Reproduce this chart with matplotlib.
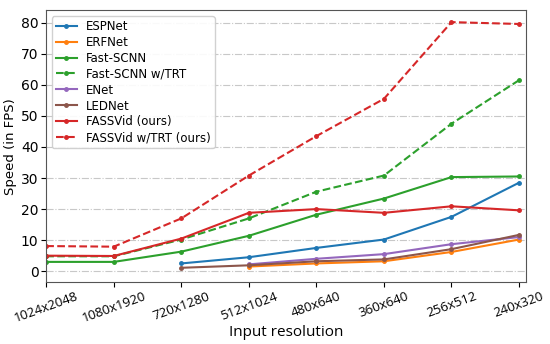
import matplotlib
matplotlib.use("Agg")
import matplotlib.pyplot as plt
import numpy as np

resolutions = ["1024x2048", "1080x1920", "720x1280", "512x1024",
               "480x640", "360x640", "256x512", "240x320"]

espnet = [None, None, 2.5, 4.5, 7.5, 10.2, 17.5, 28.5]
erfnet = [None, None, None, 1.5, 2.5, 3.2, 6.2, 10.2]
fastscnn = [3.0, 3.0, 6.3, 11.4, 18.2, 23.4, 30.3, 30.5]
fastscnn_trt = [4.8, 4.8, 10.2, 17.0, 25.6, 30.8, 47.5, 61.5]
enet = [None, None, None, 2.2, 4.0, 5.5, 8.7, 11.0]
lednet = [None, None, 1.1, 1.9, 3.2, 3.8, 7.1, 11.7]
fassvid = [5.0, 4.9, 10.5, 18.8, 20.0, 18.8, 20.9, 19.6]
fassvid_trt = [8.1, 7.9, 17.0, 30.8, 43.5, 55.5, 80.2, 79.6]

series = [
    ("ESPNet", espnet, "tab:blue", "-"),
    ("ERFNet", erfnet, "tab:orange", "-"),
    ("Fast-SCNN", fastscnn, "tab:green", "-"),
    ("Fast-SCNN w/TRT", fastscnn_trt, "tab:green", "--"),
    ("ENet", enet, "tab:purple", "-"),
    ("LEDNet", lednet, "tab:brown", "-"),
    ("FASSVid (ours)", fassvid, "tab:red", "-"),
    ("FASSVid w/TRT (ours)", fassvid_trt, "tab:red", "--"),
]

fig = plt.figure(figsize=(5.5, 3.44), dpi=100)
ax = fig.add_axes([0.084, 0.18, 0.872, 0.79])
x = np.arange(len(resolutions))
for name, vals, col, ls in series:
    y = np.array([np.nan if v is None else v for v in vals], dtype=float)
    ax.plot(x, y, ls, color=col, marker='.', markersize=5, linewidth=1.5,
            label=name)

ax.set_xlim(0, 7.1)
ax.set_ylim(-3.5, 84)
ax.set_yticks(np.arange(0, 81, 10))
ax.set_xticks(x)
ax.set_xticklabels(resolutions, rotation=20, fontfamily="Open Sans", fontsize=9.5)
ax.tick_params(axis='x', pad=2)
ax.tick_params(axis='y', labelsize=10, pad=2)
ax.grid(axis='y', linestyle='-.', color='#c8c8c8', linewidth=0.8)
ax.set_axisbelow(True)
ax.set_ylabel("Speed (in FPS)", fontsize=9.5, labelpad=3)
ax.set_xlabel("Input resolution", fontfamily="Open Sans", fontsize=11, labelpad=0)
for s in ax.spines.values():
    s.set_color('#555555')
ax.legend(loc='upper left', fontsize=8.5, framealpha=0.9, handlelength=1.8,
          labelspacing=0.25, borderpad=0.3)
fig.savefig("out.png", dpi=100)
